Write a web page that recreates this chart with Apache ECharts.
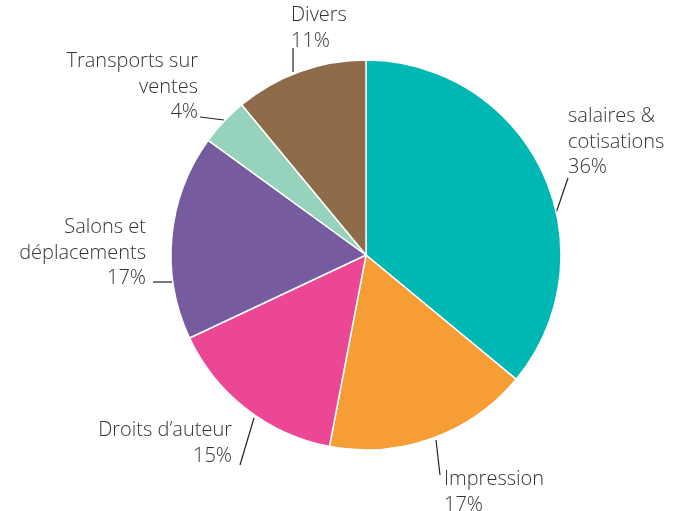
<!DOCTYPE html>
<html>
<head>
<meta charset="utf-8">
<script src="https://cdn.jsdelivr.net/npm/echarts@6/dist/echarts.min.js"></script>
<style>
  html, body { margin: 0; padding: 0; background: #fff; }
  #main { width: 673px; height: 511px; }
</style>
</head>
<body>
<div id="main"></div>
<script>
// categories and shares (%)
var names = ['salaires &\ncotisations', 'Impression', "Droits d\u2019auteur", 'Salons et\nd\u00e9placements', 'Transports sur\nventes', 'Divers'];
var values = [36, 17, 15, 17, 4, 11];
var colors = ['#00b8b3', '#f79d35', '#ec4795', '#765b9e', '#96d3bc', '#8e6c4a'];

// where each label sits and how its leader line runs
var labelPos = [
  { x: 568, y: 104, align: 'left', line: [[555, 216], [568, 178]] },
  { x: 444, y: 467, align: 'left', line: [[436, 440], [440, 475]] },
  { x: 232, y: 418, align: 'right', line: [[254, 418], [240, 465]] },
  { x: 146, y: 215, align: 'right', line: [[174, 282], [153, 282]] },
  { x: 198, y: 49, align: 'right', line: [[224, 120], [200, 117]] },
  { x: 291, y: 3, align: 'left', line: [[293, 72], [293, 48]] }
];

var chart = echarts.init(document.getElementById('main'));

var pieData = [];
for (var i = 0; i < names.length; i++) {
  pieData.push({ name: names[i], value: values[i], itemStyle: { color: colors[i] } });
}

chart.setOption({
  animation: false,
  series: [{
    type: 'pie',
    center: [366, 255],
    radius: 195,
    startAngle: 90,
    clockwise: true,
    data: pieData,
    itemStyle: { borderColor: '#fff', borderWidth: 1.5 },
    label: {
      show: true,
      formatter: function (p) { return p.name + '\n' + p.value + '%'; },
      fontFamily: 'Open Sans',
      fontWeight: 300,
      fontSize: 20,
      lineHeight: 25.5,
      color: '#333',
      overflow: 'none'
    },
    labelLine: {
      show: true,
      lineStyle: { color: '#222', width: 1.2 }
    },
    labelLayout: function (params) {
      var l = labelPos[params.dataIndex];
      var pts = l.line;
      return {
        x: l.x,
        y: l.y,
        align: l.align,
        verticalAlign: 'top',
        labelLinePoints: [pts[0], pts[1], pts[1]]
      };
    }
  }]
});
</script>
</body>
</html>
